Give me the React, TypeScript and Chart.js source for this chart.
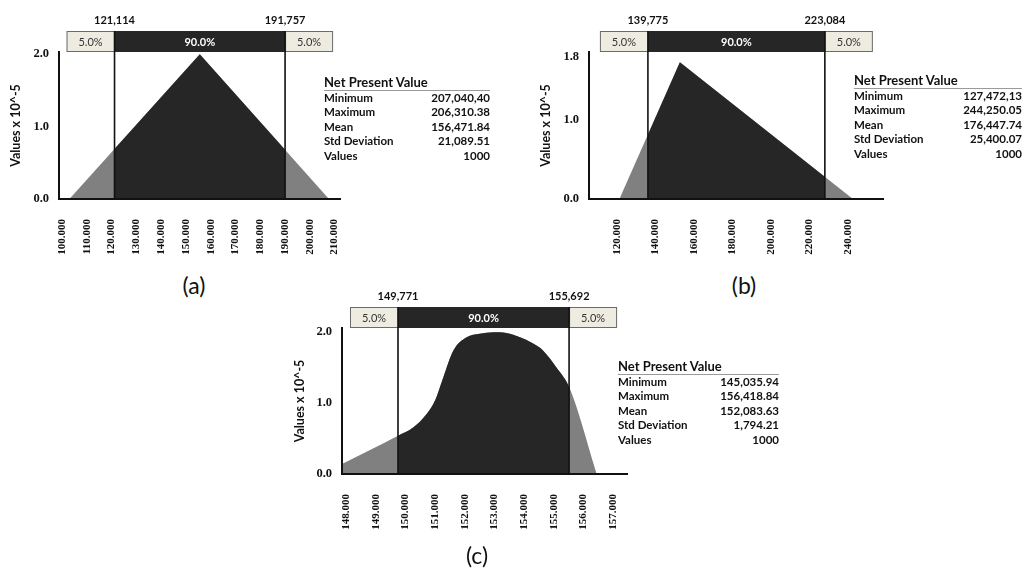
import React, { useEffect, useRef } from "react";
import { Chart, registerables } from "chart.js";

// Plugin registered BEFORE the built-in filler so its clip applies to the fill too.
const bandClip = {
  id: "bandClip",
  beforeDatasetDraw(chart: any, args: any, opts: any) {
    if (!opts || opts.from == null || args.index !== opts.index) return;
    const xs = chart.scales.x;
    const a = chart.chartArea;
    const x1 = xs.getPixelForValue(opts.from);
    const x2 = xs.getPixelForValue(opts.to);
    const ctx = chart.ctx;
    ctx.save();
    ctx.beginPath();
    ctx.rect(x1, a.top - 5, x2 - x1, a.bottom - a.top + 10);
    ctx.clip();
  },
  afterDatasetDraw(chart: any, args: any, opts: any) {
    if (!opts || opts.from == null || args.index !== opts.index) return;
    chart.ctx.restore();
  },
};
Chart.register(bandClip as any);
Chart.register(...registerables);

// ---------- shared text ----------
const statNames = ["Minimum", "Maximum", "Mean", "Std Deviation", "Values"];
const percentLabels = ["5.0%", "90.0%", "5.0%"];
const statTitle = "Net Present Value";
const yTitle = "Values x 10^-5";

// ---------- panel (a) ----------
const aCurveX = [103000, 155600, 207700];
const aCurveY = [0, 2.0, 0];
const aTicksX = [100000, 110000, 120000, 130000, 140000, 150000, 160000, 170000, 180000, 190000, 200000, 210000];
const aTicksY = [0, 1, 2];
const aMarkers = [121200, 190000];
const aMarkerLabels = ["121,114", "191,757"];
const aStatValues = ["207,040,40", "206,310.38", "156,471.84", "21,089.51", "1000"];

// ---------- panel (b) ----------
const bCurveX = [121300, 152700, 242600];
const bCurveY = [0, 1.73, 0];
const bTicksX = [120000, 140000, 160000, 180000, 200000, 220000, 240000];
const bTicksY = [0, 1, 1.8];
const bMarkers = [136100, 228000];
const bMarkerLabels = ["139,775", "223,084"];
const bStatValues = ["127,472,13", "244,250.05", "176,447.74", "25,400.07", "1000"];

// ---------- panel (c) ----------
const cCurveX = [147865, 149750, 150270, 150720, 151000, 151280, 151610, 152060, 152500, 152960, 153400, 153860, 154300, 154640, 155090, 155520, 156440];
const cCurveY = [0.14, 0.54, 0.66, 0.85, 1.04, 1.37, 1.74, 1.93, 1.98, 2.0, 1.99, 1.93, 1.84, 1.74, 1.5, 1.22, 0];
const cTicksX = [148000, 149000, 150000, 151000, 152000, 153000, 154000, 155000, 156000, 157000];
const cTicksY = [0, 1, 2];
const cMarkers = [149750, 155510];
const cMarkerLabels = ["149,771", "155,692"];
const cStatValues = ["145,035.94", "156,418.84", "152,083.63", "1,794.21", "1000"];

const SANS = "Lato, 'Open Sans', sans-serif";
const SERIF = "'Liberation Serif', 'DejaVu Serif', serif";
const DARK = "#262626";
const GRAY = "#808080";

type PanelProps = {
  curveX: number[];
  curveY: number[];
  ticksX: number[];
  ticksY: number[];
  markers: number[];
  markerLabels: string[];
  xMin: number;
  xMax: number;
  yMax: number;
  smooth: boolean;
  box: { left: number; top: number; width: number; height: number };
  area: { left: number; top: number; right: number; bottom: number };
  titleOffset: number;
};

function Panel(p: PanelProps) {
  const ref = useRef<HTMLCanvasElement>(null);
  useEffect(() => {
    const canvas = ref.current!;
    const data = p.curveX.map((x, i) => ({ x, y: p.curveY[i] }));
    const yScaleWidth = p.area.left - p.box.left;
    const xScaleHeight = 60;
    const padTop = p.area.top - p.box.top;
    const padRight = p.box.left + p.box.width - p.area.right;
    const padBottom = p.box.top + p.box.height - p.area.bottom - xScaleHeight;

    const overlay = {
      id: "overlay",
      afterDatasetsDraw(chart: any) {
        const ctx = chart.ctx;
        const xs = chart.scales.x;
        const a = chart.chartArea;
        const x1 = xs.getPixelForValue(p.markers[0]);
        const x2 = xs.getPixelForValue(p.markers[1]);
        const barH = 21;
        const side = 48;
        const bt = a.top - barH;
        ctx.save();
        // side boxes
        ctx.fillStyle = "#EEECE1";
        ctx.strokeStyle = "#6b6b6b";
        ctx.lineWidth = 1;
        ctx.fillRect(x1 - side, bt, side, barH);
        ctx.strokeRect(x1 - side + 0.5, bt + 0.5, side, barH - 1);
        ctx.fillRect(x2, bt, side, barH);
        ctx.strokeRect(x2 + 0.5, bt + 0.5, side - 1, barH - 1);
        // middle
        ctx.fillStyle = DARK;
        ctx.fillRect(x1, bt, x2 - x1, barH);
        // texts
        ctx.textAlign = "center";
        ctx.textBaseline = "middle";
        ctx.font = "11px " + SANS;
        ctx.fillStyle = "#333";
        ctx.fillText(percentLabels[0], x1 - side / 2, bt + barH / 2 + 1);
        ctx.fillText(percentLabels[2], x2 + side / 2, bt + barH / 2 + 1);
        ctx.fillStyle = "#fff";
        ctx.font = "bold 11px " + SANS;
        ctx.fillText(percentLabels[1], (x1 + x2) / 2, bt + barH / 2 + 1);
        // marker lines
        ctx.strokeStyle = "#111";
        ctx.lineWidth = 1.6;
        for (const m of p.markers) {
          const x = xs.getPixelForValue(m);
          ctx.beginPath();
          ctx.moveTo(x, bt);
          ctx.lineTo(x, a.bottom);
          ctx.stroke();
        }
        // marker labels
        ctx.fillStyle = "#111";
        ctx.font = "bold 11px " + SANS;
        p.markers.forEach((m, i) => {
          ctx.fillText(p.markerLabels[i], xs.getPixelForValue(m), a.top - 32);
        });
        ctx.restore();
      },
    };

    const chart = new Chart(canvas, {
      type: "line",
      data: {
        datasets: [
          {
            data,
            order: 2,
            borderWidth: 0,
            pointRadius: 0,
            fill: "origin",
            backgroundColor: GRAY,
            borderColor: GRAY,
            tension: 0,
            cubicInterpolationMode: p.smooth ? "monotone" : "default",
          },
          {
            data,
            order: 1,
            borderWidth: 0,
            pointRadius: 0,
            fill: "origin",
            backgroundColor: DARK,
            borderColor: DARK,
            tension: 0,
            cubicInterpolationMode: p.smooth ? "monotone" : "default",
          },
        ],
      },
      options: {
        animation: false,
        responsive: false,
        maintainAspectRatio: false,
        events: [],
        layout: { padding: { top: padTop, right: padRight, bottom: padBottom, left: 0 } },
        plugins: {
          legend: { display: false },
          tooltip: { enabled: false },
          title: { display: false },
          bandClip: { from: p.markers[0], to: p.markers[1], index: 1 },
        },
        scales: {
          x: {
            type: "linear",
            min: p.xMin,
            max: p.xMax,
            grid: { display: false },
            border: { display: true, color: "#111", width: 2, z: 1 },
            afterBuildTicks: (s: any) => {
              s.ticks = p.ticksX.map((v) => ({ value: v }));
            },
            afterFit: (s: any) => {
              s.height = xScaleHeight;
            },
            ticks: {
              autoSkip: false,
              minRotation: 90,
              maxRotation: 90,
              padding: 12,
              color: "#111",
              font: { family: SERIF, size: 11, weight: "bold" },
              callback: (v: any) => (Number(v) / 1000).toFixed(3),
            },
          },
          y: {
            type: "linear",
            min: 0,
            max: p.yMax,
            grid: { display: false },
            border: { display: true, color: "#111", width: 2, z: 1 },
            afterBuildTicks: (s: any) => {
              s.ticks = p.ticksY.map((v) => ({ value: v }));
            },
            afterFit: (s: any) => {
              s.width = yScaleWidth;
            },
            ticks: {
              padding: 2,
              color: "#111",
              font: { family: SERIF, size: 12.5, weight: "bold" },
              callback: (v: any) => Number(v).toFixed(1),
            },
            title: {
              display: true,
              text: yTitle,
              color: "#111",
              font: { family: SANS, size: 12.5, weight: "bold" },
              padding: { top: p.titleOffset, bottom: 0 },
            },
          },
        },
      },
      plugins: [overlay],
    } as any);
    return () => chart.destroy();
  }, []);
  return (
    <canvas
      ref={ref}
      width={p.box.width}
      height={p.box.height}
      style={{ position: "absolute", left: p.box.left, top: p.box.top, width: p.box.width, height: p.box.height }}
    />
  );
}

function Stats({ left, top, width, values }: { left: number; top: number; width: number; values: string[] }) {
  return (
    <div style={{ position: "absolute", left, top, width, fontFamily: SANS, color: "#111" }}>
      <div
        style={{
          fontSize: 13,
          fontWeight: 700,
          lineHeight: "15px",
          height: 15,
          borderBottom: "1px solid #9a9a9a",
          whiteSpace: "nowrap",
        }}
      >
        {statTitle}
      </div>
      {statNames.map((n, i) => (
        <div
          key={n}
          style={{
            display: "flex",
            justifyContent: "space-between",
            fontSize: 11.5,
            fontWeight: 700,
            lineHeight: "14.5px",
            height: 14.5,
            whiteSpace: "nowrap",
          }}
        >
          <span>{n}</span>
          <span>{values[i]}</span>
        </div>
      ))}
    </div>
  );
}

function Caption({ x, y, text }: { x: number; y: number; text: string }) {
  return (
    <div
      style={{
        position: "absolute",
        left: x - 30,
        top: y - 14,
        width: 60,
        height: 28,
        lineHeight: "28px",
        textAlign: "center",
        fontFamily: SANS,
        fontSize: 23,
        color: "#111",
      }}
    >
      {text}
    </div>
  );
}

export default function App() {
  return (
    <div style={{ position: "absolute", left: 0, top: 0, width: 1024, height: 571, background: "#fff", overflow: "hidden" }}>
      <Panel
        curveX={aCurveX}
        curveY={aCurveY}
        ticksX={aTicksX}
        ticksY={aTicksY}
        markers={aMarkers}
        markerLabels={aMarkerLabels}
        xMin={98800}
        xMax={212400}
        yMax={2.03}
        smooth={false}
        box={{ left: 0, top: 0, width: 360, height: 270 }}
        area={{ left: 59, top: 52, right: 353, bottom: 199 }}
        titleOffset={8}
      />
      <Panel
        curveX={bCurveX}
        curveY={bCurveY}
        ticksX={bTicksX}
        ticksY={bTicksY}
        markers={bMarkers}
        markerLabels={bMarkerLabels}
        xMin={105500}
        xMax={258200}
        yMax={1.86}
        smooth={false}
        box={{ left: 520, top: 0, width: 370, height: 270 }}
        area={{ left: 589, top: 52, right: 883, bottom: 199 }}
        titleOffset={18}
      />
      <Panel
        curveX={cCurveX}
        curveY={cCurveY}
        ticksX={cTicksX}
        ticksY={cTicksY}
        markers={cMarkers}
        markerLabels={cMarkerLabels}
        xMin={147865}
        xMax={157460}
        yMax={2.06}
        smooth={true}
        box={{ left: 280, top: 280, width: 360, height: 270 }}
        area={{ left: 342, top: 328, right: 627, bottom: 474 }}
        titleOffset={12}
      />
      <Stats left={324} top={74.5} width={166} values={aStatValues} />
      <Stats left={854} top={72.5} width={168} values={bStatValues} />
      <Stats left={618} top={358.5} width={161} values={cStatValues} />
      <Caption x={194} y={285} text="(a)" />
      <Caption x={744} y={285} text="(b)" />
      <Caption x={477} y={555} text="(c)" />
    </div>
  );
}
